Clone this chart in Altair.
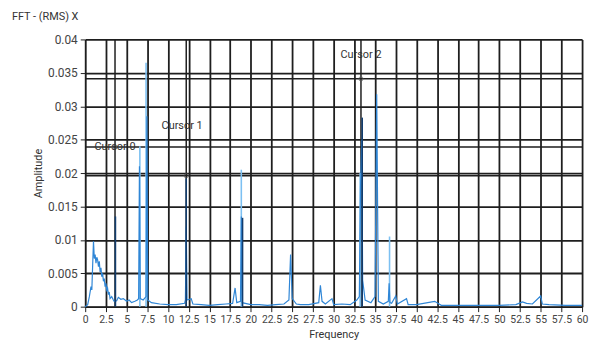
import altair as alt
import pandas as pd

# Main (medium blue) spectrum trace
freq = [0.0, 0.3, 0.5, 0.7, 0.8, 0.9, 1.0, 1.1, 1.2, 1.3, 1.4, 1.5, 1.6, 1.7, 1.8, 1.9,
        2.0, 2.1, 2.2, 2.3, 2.4, 2.5, 2.6, 2.7, 2.8, 2.9, 3.0, 3.2, 3.4, 3.5, 3.8, 4.0,
        4.3, 4.6, 5.0, 5.3, 5.6, 6.0, 6.3, 6.45, 6.55, 6.65, 7.0, 7.35, 7.45, 7.55, 8.0,
        9.0, 10.0, 11.0, 12.0, 12.1, 12.2, 12.3, 12.8, 13.0, 14.0, 15.0, 16.0, 17.0,
        17.8, 18.1, 18.3, 18.75, 18.85, 18.95, 20.0, 21.0, 22.0, 23.0, 24.0, 24.6, 24.8,
        25.0, 25.5, 26.0, 27.0, 28.2, 28.4, 28.6, 29.0, 29.8, 30.0, 31.0, 32.0, 32.8,
        33.1, 33.25, 33.4, 33.5, 33.8, 34.5, 35.0, 35.2, 35.4, 36.0, 36.6, 36.7, 36.8,
        37.0, 37.5, 37.7, 38.8, 39.0, 40.0, 42.2, 43.0, 45.0, 48.0, 50.0, 52.0, 52.8,
        53.3, 54.0, 55.0, 55.2, 56.0, 58.0, 60.0]
amp = [0.0, 0.0003, 0.0015, 0.0030, 0.0025, 0.0062, 0.0098, 0.0072, 0.0078, 0.0065,
       0.0074, 0.0070, 0.0060, 0.0068, 0.0052, 0.0058, 0.0045, 0.0050, 0.0038, 0.0042,
       0.0030, 0.0035, 0.0025, 0.0028, 0.0018, 0.0022, 0.0012, 0.0015, 0.0010, 0.0008,
       0.0009, 0.0014, 0.0011, 0.0012, 0.0008, 0.0010, 0.0006, 0.0008, 0.0010, 0.0012,
       0.0210, 0.0012, 0.0010, 0.0015, 0.0285, 0.0010, 0.0006, 0.0004, 0.0003, 0.0003,
       0.0005, 0.0010, 0.0120, 0.0010, 0.0012, 0.0004, 0.0003, 0.0002, 0.0003, 0.0004,
       0.0005, 0.0028, 0.0006, 0.0008, 0.0135, 0.0006, 0.0003, 0.0003, 0.0002, 0.0003,
       0.0004, 0.0010, 0.0078, 0.0012, 0.0004, 0.0003, 0.0003, 0.0006, 0.0032, 0.0008,
       0.0004, 0.0012, 0.0003, 0.0004, 0.0003, 0.0010, 0.0015, 0.0180, 0.0250, 0.0040,
       0.0010, 0.0006, 0.0015, 0.0318, 0.0008, 0.0004, 0.0008, 0.0035, 0.0006, 0.0005,
       0.0016, 0.0004, 0.0012, 0.0003, 0.0003, 0.0008, 0.0002, 0.0002, 0.0002, 0.0002,
       0.0003, 0.0007, 0.0005, 0.0004, 0.0016, 0.0004, 0.0003, 0.0002, 0.0002]

# Dark navy peaks
dark_f = [3.65, 12.2, 19.0, 33.45]
dark_a = [0.0135, 0.0192, 0.0133, 0.0283]

# Light blue peaks
light_f = [6.6, 7.35, 18.85, 33.2, 36.75]
light_a = [0.0240, 0.0365, 0.0205, 0.0200, 0.0105]

# Cursors
cursor_names = ["Cursor 0", "Cursor 1", "Cursor 2"]
cursor_x = [3.6, 12.2, 33.3]
cursor_y = [0.0239, 0.0196, 0.0341]
label_x = [3.6, 11.7, 33.3]
label_y = [0.0239, 0.0271, 0.0376]

x_ticks = [0, 2.5, 5, 7.5, 10, 12.5, 15, 17.5, 20, 22.5, 25, 27.5, 30, 32.5, 35,
           37.5, 40, 42.5, 45, 47.5, 50, 52.5, 55, 57.5, 60]
y_ticks = [0, 0.005, 0.01, 0.015, 0.02, 0.025, 0.03, 0.035, 0.04]

FONT = "Roboto"

spec = pd.DataFrame({"f": freq, "a": amp})
dark = pd.DataFrame({"f": dark_f, "a": dark_a, "z": [0.0] * len(dark_f)})
light = pd.DataFrame({"f": light_f, "a": light_a, "z": [0.0] * len(light_f)})
cur = pd.DataFrame({"name": cursor_names, "cx": cursor_x, "cy": cursor_y,
                    "lx": label_x, "ly": label_y})

xs = alt.Scale(domain=[0, 60], nice=False, zero=False)
ys = alt.Scale(domain=[0, 0.04], nice=False)

x_axis = alt.Axis(values=x_ticks, labelExpr="'' + datum.value", title="Frequency",
                  labelOverlap=False, labelFlush=False, grid=True, gridColor="#1e1e1e",
                  gridWidth=1.8, tickSize=5, labelPadding=3, titlePadding=4,
                  labelFontSize=10.5)
y_axis = alt.Axis(values=y_ticks, labelExpr="'' + datum.value", title="Amplitude",
                  labelOverlap=False, labelFlush=False, grid=True, gridColor="#1e1e1e",
                  gridWidth=1.8, tickSize=5, labelPadding=3, titlePadding=4,
                  labelFontSize=12)

X = lambda field: alt.X(field, type="quantitative", scale=xs, axis=x_axis)
Y = lambda field: alt.Y(field, type="quantitative", scale=ys, axis=y_axis)

cur_v = alt.Chart(cur).mark_rule(color="#1e1e1e", strokeWidth=1.5).encode(x=X("cx"))
cur_h = alt.Chart(cur).mark_rule(color="#1e1e1e", strokeWidth=1.5).encode(y=Y("cy"))

light_rules = alt.Chart(light).mark_rule(color="#7cc0f2", strokeWidth=1.6).encode(
    x=X("f"), y=Y("z"), y2="a:Q")

spec_line = alt.Chart(spec).mark_line(color="#2f86d6", strokeWidth=1.2).encode(
    x=X("f"), y=Y("a"))

dark_rules = alt.Chart(dark).mark_rule(color="#123d6e", strokeWidth=1.6).encode(
    x=X("f"), y=Y("z"), y2="a:Q")

cur_pt = alt.Chart(cur).mark_point(color="#555", size=18, strokeWidth=1).encode(
    x=X("cx"), y=Y("cy"))
cur_txt = alt.Chart(cur).mark_text(font=FONT, fontSize=11, color="#333",
                                   align="center", baseline="middle").encode(
    x=X("lx"), y=Y("ly"), text="name:N")

chart = alt.layer(spec_line.encode(opacity=alt.value(0)), cur_v, cur_h, light_rules,
                  spec_line, dark_rules, cur_pt, cur_txt).properties(
    width=502, height=270,
    title=alt.TitleParams("FFT - (RMS) X", anchor="start", frame="group", dx=-74,
                          offset=12, font=FONT, fontSize=11, fontWeight="normal",
                          color="#333"),
    autosize=alt.AutoSizeParams(type="none"),
    padding={"left": 78, "top": 30, "right": 8, "bottom": 40},
).configure_view(stroke=None).configure_axis(
    labelFont=FONT, titleFont=FONT, titleFontSize=11,
    labelColor="#444", titleColor="#333", titleFontWeight="normal",
    domainColor="#1e1e1e", tickColor="#1e1e1e"
)

chart.save("out.html", embed_options={"renderer": "svg", "actions": False})
